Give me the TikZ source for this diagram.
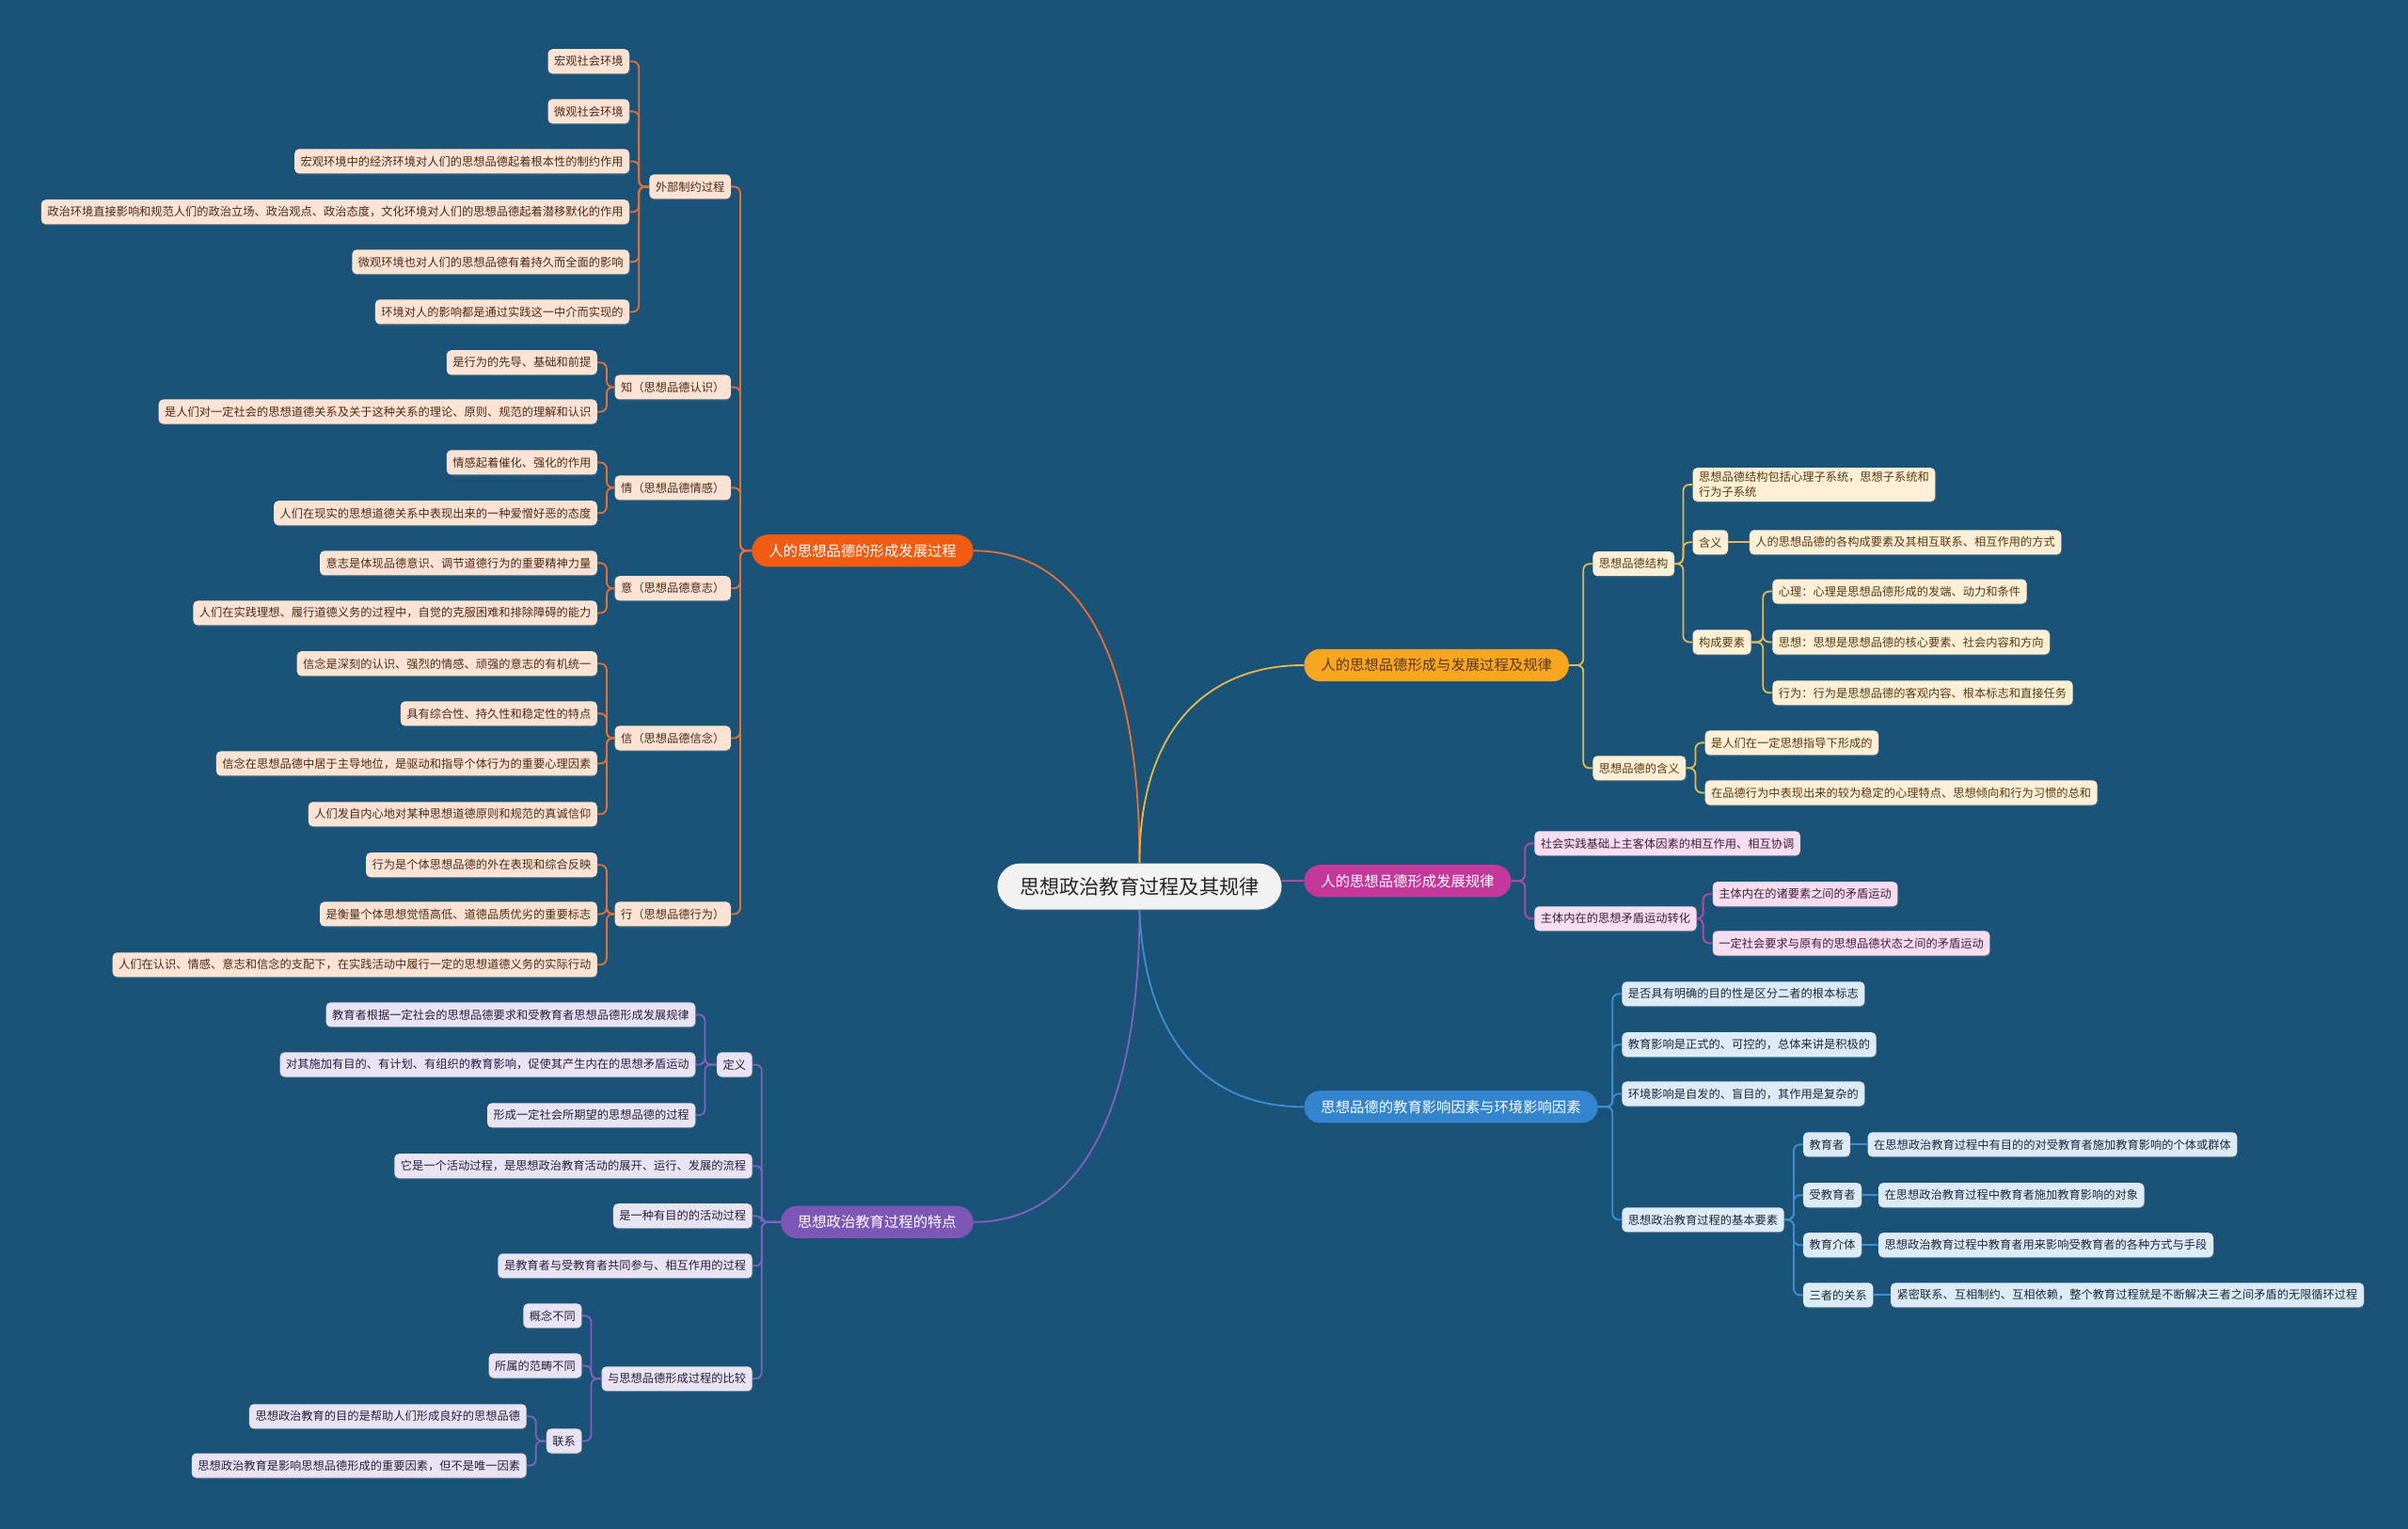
\documentclass[tikz,border=0pt]{standalone}
\usepackage{fontspec}
\newfontfamily\cjk{Noto Sans CJK SC}
\usetikzlibrary{calc,shadows}
\definecolor{bg}{RGB}{27,83,120}
\definecolor{omainc}{RGB}{242,92,18}
\definecolor{olinec}{RGB}{232,112,52}
\definecolor{oleafc}{RGB}{252,227,211}
\definecolor{otextc}{RGB}{78,42,22}
\definecolor{ymainc}{RGB}{248,166,32}
\definecolor{ylinec}{RGB}{226,186,82}
\definecolor{yleafc}{RGB}{253,240,214}
\definecolor{ytextc}{RGB}{88,58,18}
\definecolor{mmainc}{RGB}{196,56,156}
\definecolor{mlinec}{RGB}{182,72,168}
\definecolor{mleafc}{RGB}{246,221,239}
\definecolor{mtextc}{RGB}{68,30,58}
\definecolor{bmainc}{RGB}{52,133,207}
\definecolor{blinec}{RGB}{62,142,212}
\definecolor{bleafc}{RGB}{221,235,247}
\definecolor{btextc}{RGB}{28,40,60}
\definecolor{pmainc}{RGB}{126,86,182}
\definecolor{plinec}{RGB}{130,98,192}
\definecolor{pleafc}{RGB}{233,227,243}
\definecolor{ptextc}{RGB}{40,30,62}
\definecolor{centc}{RGB}{242,242,242}
\newcommand\Lc[3]{\draw[#1] (#2.west) -| ($(#3.east)+(6,0)$) -- (#3.east);}
\newcommand\Rc[3]{\draw[#1] (#2.east) -| ($(#3.west)+(-6,0)$) -- (#3.west);}
\tikzset{
  base/.style={font=\cjk\fontsize{7.5}{10}\selectfont, inner xsep=4pt, inner ysep=0pt,
    minimum height=16pt, rounded corners=3pt,
    drop shadow={opacity=0.25, shadow xshift=0.5pt, shadow yshift=-0.8pt}},
  oleaf/.style={base, fill=oleafc, text=otextc},
  yleaf/.style={base, fill=yleafc, text=ytextc},
  mleaf/.style={base, fill=mleafc, text=mtextc},
  bleaf/.style={base, fill=bleafc, text=btextc},
  pleaf/.style={base, fill=pleafc, text=ptextc},
  mainb/.style={font=\cjk\fontsize{9.4}{11}\selectfont, inner xsep=11pt, inner ysep=0pt,
    minimum height=21pt, rounded corners=10.5pt, text=white},
  omain/.style={mainb, fill=omainc},
  ymain/.style={mainb, fill=ymainc, text=ytextc},
  mmain/.style={mainb, fill=mmainc},
  bmain/.style={mainb, fill=bmainc},
  pmain/.style={mainb, fill=pmainc},
  cline/.style={line width=1.1pt, rounded corners=4pt},
  oline/.style={cline, draw=olinec},
  yline/.style={cline, draw=ylinec},
  mline/.style={cline, draw=mlinec},
  bline/.style={cline, draw=blinec},
  pline/.style={cline, draw=plinec},
}
\begin{document}
\begin{tikzpicture}[x=1pt,y=-1pt]
\fill[bg] (0,0) rectangle (1568,995);
\useasboundingbox (0,0) rectangle (1568,995);

% central
\node[font=\cjk\fontsize{13}{16}\selectfont, fill=centc, text=black!85, minimum width=185pt,
  minimum height=30pt, rounded corners=15pt, inner sep=0pt,
  drop shadow={opacity=0.25, shadow xshift=0.5pt, shadow yshift=-0.8pt}] (C) at (742,577) {思想政治教育过程及其规律};

% ===== orange branch =====
\node[omain, anchor=east] (O) at (634,358.5) {人的思想品德的形成发展过程};
\node[oleaf, anchor=east] (O1) at (476,121.5) {外部制约过程};
\node[oleaf, anchor=east] (O2) at (476,252) {知（思想品德认识）};
\node[oleaf, anchor=east] (O3) at (476,317.5) {情（思想品德情感）};
\node[oleaf, anchor=east] (O4) at (476,383) {意（思想品德意志）};
\node[oleaf, anchor=east] (O5) at (476,480.5) {信（思想品德信念）};
\node[oleaf, anchor=east] (O6) at (476,595) {行（思想品德行为）};

\node[oleaf, anchor=east] (O1a) at (410,40) {宏观社会环境};
\node[oleaf, anchor=east] (O1b) at (410,72.5) {微观社会环境};
\node[oleaf, anchor=east] (O1c) at (410,105) {宏观环境中的经济环境对人们的思想品德起着根本性的制约作用};
\node[oleaf, anchor=east] (O1d) at (410,138) {政治环境直接影响和规范人们的政治立场、政治观点、政治态度，文化环境对人们的思想品德起着潜移默化的作用};
\node[oleaf, anchor=east] (O1e) at (410,170.5) {微观环境也对人们的思想品德有着持久而全面的影响};
\node[oleaf, anchor=east] (O1f) at (410,203) {环境对人的影响都是通过实践这一中介而实现的};

\node[oleaf, anchor=east] (O2a) at (389,236) {是行为的先导、基础和前提};
\node[oleaf, anchor=east] (O2b) at (389,268) {是人们对一定社会的思想道德关系及关于这种关系的理论、原则、规范的理解和认识};

\node[oleaf, anchor=east] (O3a) at (389,301) {情感起着催化、强化的作用};
\node[oleaf, anchor=east] (O3b) at (389,334) {人们在现实的思想道德关系中表现出来的一种爱憎好恶的态度};

\node[oleaf, anchor=east] (O4a) at (389,366.5) {意志是体现品德意识、调节道德行为的重要精神力量};
\node[oleaf, anchor=east] (O4b) at (389,399) {人们在实践理想、履行道德义务的过程中，自觉的克服困难和排除障碍的能力};

\node[oleaf, anchor=east] (O5a) at (389,432) {信念是深刻的认识、强烈的情感、顽强的意志的有机统一};
\node[oleaf, anchor=east] (O5b) at (389,464.5) {具有综合性、持久性和稳定性的特点};
\node[oleaf, anchor=east] (O5c) at (389,497) {信念在思想品德中居于主导地位，是驱动和指导个体行为的重要心理因素};
\node[oleaf, anchor=east] (O5d) at (389,530) {人们发自内心地对某种思想道德原则和规范的真诚信仰};

\node[oleaf, anchor=east] (O6a) at (389,563) {行为是个体思想品德的外在表现和综合反映};
\node[oleaf, anchor=east] (O6b) at (389,595) {是衡量个体思想觉悟高低、道德品质优劣的重要标志};
\node[oleaf, anchor=east] (O6c) at (389,628) {人们在认识、情感、意志和信念的支配下，在实践活动中履行一定的思想道德义务的实际行动};

% ===== purple branch =====
\node[pmain, anchor=east] (P) at (634,795.5) {思想政治教育过程的特点};
\node[pleaf, anchor=east] (P1) at (490,693) {定义};
\node[pleaf, anchor=east] (P2) at (490,759) {它是一个活动过程，是思想政治教育活动的展开、运行、发展的流程};
\node[pleaf, anchor=east] (P3) at (490,791.5) {是一种有目的的活动过程};
\node[pleaf, anchor=east] (P4) at (490,824) {是教育者与受教育者共同参与、相互作用的过程};
\node[pleaf, anchor=east] (P5) at (490,897.5) {与思想品德形成过程的比较};

\node[pleaf, anchor=east] (P1a) at (453,660.5) {教育者根据一定社会的思想品德要求和受教育者思想品德形成发展规律};
\node[pleaf, anchor=east] (P1b) at (453,693) {对其施加有目的、有计划、有组织的教育影响，促使其产生内在的思想矛盾运动};
\node[pleaf, anchor=east] (P1c) at (453,726) {形成一定社会所期望的思想品德的过程};

\node[pleaf, anchor=east] (P5a) at (379,856.5) {概念不同};
\node[pleaf, anchor=east] (P5b) at (379,889) {所属的范畴不同};
\node[pleaf, anchor=east] (P5c) at (379,938) {联系};
\node[pleaf, anchor=east] (P5c1) at (343,922) {思想政治教育的目的是帮助人们形成良好的思想品德};
\node[pleaf, anchor=east] (P5c2) at (343,954) {思想政治教育是影响思想品德形成的重要因素，但不是唯一因素};

% ===== yellow branch =====
\node[ymain, anchor=west] (Y) at (849,433) {人的思想品德形成与发展过程及规律};
\node[yleaf, anchor=west] (Y1) at (1037,367) {思想品德结构};
\node[yleaf, anchor=west] (Y2) at (1037,500) {思想品德的含义};
\node[yleaf, anchor=west, align=left, inner ysep=2.5pt] (Y1a) at (1102,315.5) {思想品德结构包括心理子系统，思想子系统和\\行为子系统};
\node[yleaf, anchor=west] (Y1b) at (1102,353) {含义};
\node[yleaf, anchor=west] (Y1b1) at (1139,353) {人的思想品德的各构成要素及其相互联系、相互作用的方式};
\node[yleaf, anchor=west] (Y1c) at (1102,418) {构成要素};
\node[yleaf, anchor=west] (Y1c1) at (1154,385) {心理：心理是思想品德形成的发端、动力和条件};
\node[yleaf, anchor=west] (Y1c2) at (1154,418) {思想：思想是思想品德的核心要素、社会内容和方向};
\node[yleaf, anchor=west] (Y1c3) at (1154,451) {行为：行为是思想品德的客观内容、根本标志和直接任务};
\node[yleaf, anchor=west] (Y2a) at (1110,483.5) {是人们在一定思想指导下形成的};
\node[yleaf, anchor=west] (Y2b) at (1110,516) {在品德行为中表现出来的较为稳定的心理特点、思想倾向和行为习惯的总和};

% ===== magenta branch =====
\node[mmain, anchor=west] (M) at (849,573.5) {人的思想品德形成发展规律};
\node[mleaf, anchor=west] (M1) at (999,549) {社会实践基础上主客体因素的相互作用、相互协调};
\node[mleaf, anchor=west] (M2) at (999,598) {主体内在的思想矛盾运动转化};
\node[mleaf, anchor=west] (M2a) at (1115,582) {主体内在的诸要素之间的矛盾运动};
\node[mleaf, anchor=west] (M2b) at (1115,614) {一定社会要求与原有的思想品德状态之间的矛盾运动};

% ===== blue branch =====
\node[bmain, anchor=west] (B) at (849,720.5) {思想品德的教育影响因素与环境影响因素};
\node[bleaf, anchor=west] (B1) at (1056,647) {是否具有明确的目的性是区分二者的根本标志};
\node[bleaf, anchor=west] (B2) at (1056,680) {教育影响是正式的、可控的，总体来讲是积极的};
\node[bleaf, anchor=west] (B3) at (1056,712) {环境影响是自发的、盲目的，其作用是复杂的};
\node[bleaf, anchor=west] (B4) at (1056,794) {思想政治教育过程的基本要素};
\node[bleaf, anchor=west] (B4a) at (1174,745) {教育者};
\node[bleaf, anchor=west] (B4b) at (1174,778) {受教育者};
\node[bleaf, anchor=west] (B4c) at (1174,810.5) {教育介体};
\node[bleaf, anchor=west] (B4d) at (1174,843) {三者的关系};
\node[bleaf, anchor=west] (B4a1) at (1216,745) {在思想政治教育过程中有目的的对受教育者施加教育影响的个体或群体};
\node[bleaf, anchor=west] (B4b1) at (1223,778) {在思想政治教育过程中教育者施加教育影响的对象};
\node[bleaf, anchor=west] (B4c1) at (1223,810.5) {思想政治教育过程中教育者用来影响受教育者的各种方式与手段};
\node[bleaf, anchor=west] (B4d1) at (1231,843) {紧密联系、互相制约、互相依赖，整个教育过程就是不断解决三者之间矛盾的无限循环过程};

% ===== main connectors =====
\draw[oline] (O.east) .. controls (700,358.5) and (742,420) .. (C.north);
\draw[yline] (C.north) .. controls (742,470) and (790,433) .. (Y.west);
\draw[mline] (C.east |- M.west) -- (M.west);
\draw[bline] (C.south) .. controls (745,670) and (780,720.5) .. (B.west);
\draw[pline] (C.south) .. controls (742,710) and (710,795.5) .. (P.east);

% ===== orange connectors =====
\foreach \c in {O1,O2,O3,O4,O5,O6} {\Lc{oline}{O}{\c}}
\foreach \c in {O1a,O1b,O1c,O1d,O1e,O1f} {\Lc{oline}{O1}{\c}}
\foreach \c in {O2a,O2b} {\Lc{oline}{O2}{\c}}
\foreach \c in {O3a,O3b} {\Lc{oline}{O3}{\c}}
\foreach \c in {O4a,O4b} {\Lc{oline}{O4}{\c}}
\foreach \c in {O5a,O5b,O5c,O5d} {\Lc{oline}{O5}{\c}}
\foreach \c in {O6a,O6b,O6c} {\Lc{oline}{O6}{\c}}

% ===== purple connectors =====
\foreach \c in {P1,P2,P3,P4,P5} {\Lc{pline}{P}{\c}}
\foreach \c in {P1a,P1b,P1c} {\Lc{pline}{P1}{\c}}
\foreach \c in {P5a,P5b,P5c} {\Lc{pline}{P5}{\c}}
\foreach \c in {P5c1,P5c2} {\Lc{pline}{P5c}{\c}}

% ===== yellow connectors =====
\foreach \c in {Y1,Y2} {\Rc{yline}{Y}{\c}}
\foreach \c in {Y1a,Y1b,Y1c} {\Rc{yline}{Y1}{\c}}
\draw[yline] (Y1b.east) -- (Y1b1.west);
\foreach \c in {Y1c1,Y1c2,Y1c3} {\Rc{yline}{Y1c}{\c}}
\foreach \c in {Y2a,Y2b} {\Rc{yline}{Y2}{\c}}

% ===== magenta connectors =====
\foreach \c in {M1,M2} {\Rc{mline}{M}{\c}}
\foreach \c in {M2a,M2b} {\Rc{mline}{M2}{\c}}

% ===== blue connectors =====
\foreach \c in {B1,B2,B3,B4} {\Rc{bline}{B}{\c}}
\foreach \c in {B4a,B4b,B4c,B4d} {\Rc{bline}{B4}{\c}}
\draw[bline] (B4a.east) -- (B4a1.west);
\draw[bline] (B4b.east) -- (B4b1.west);
\draw[bline] (B4c.east) -- (B4c1.west);
\draw[bline] (B4d.east) -- (B4d1.west);
\end{tikzpicture}
\end{document}
